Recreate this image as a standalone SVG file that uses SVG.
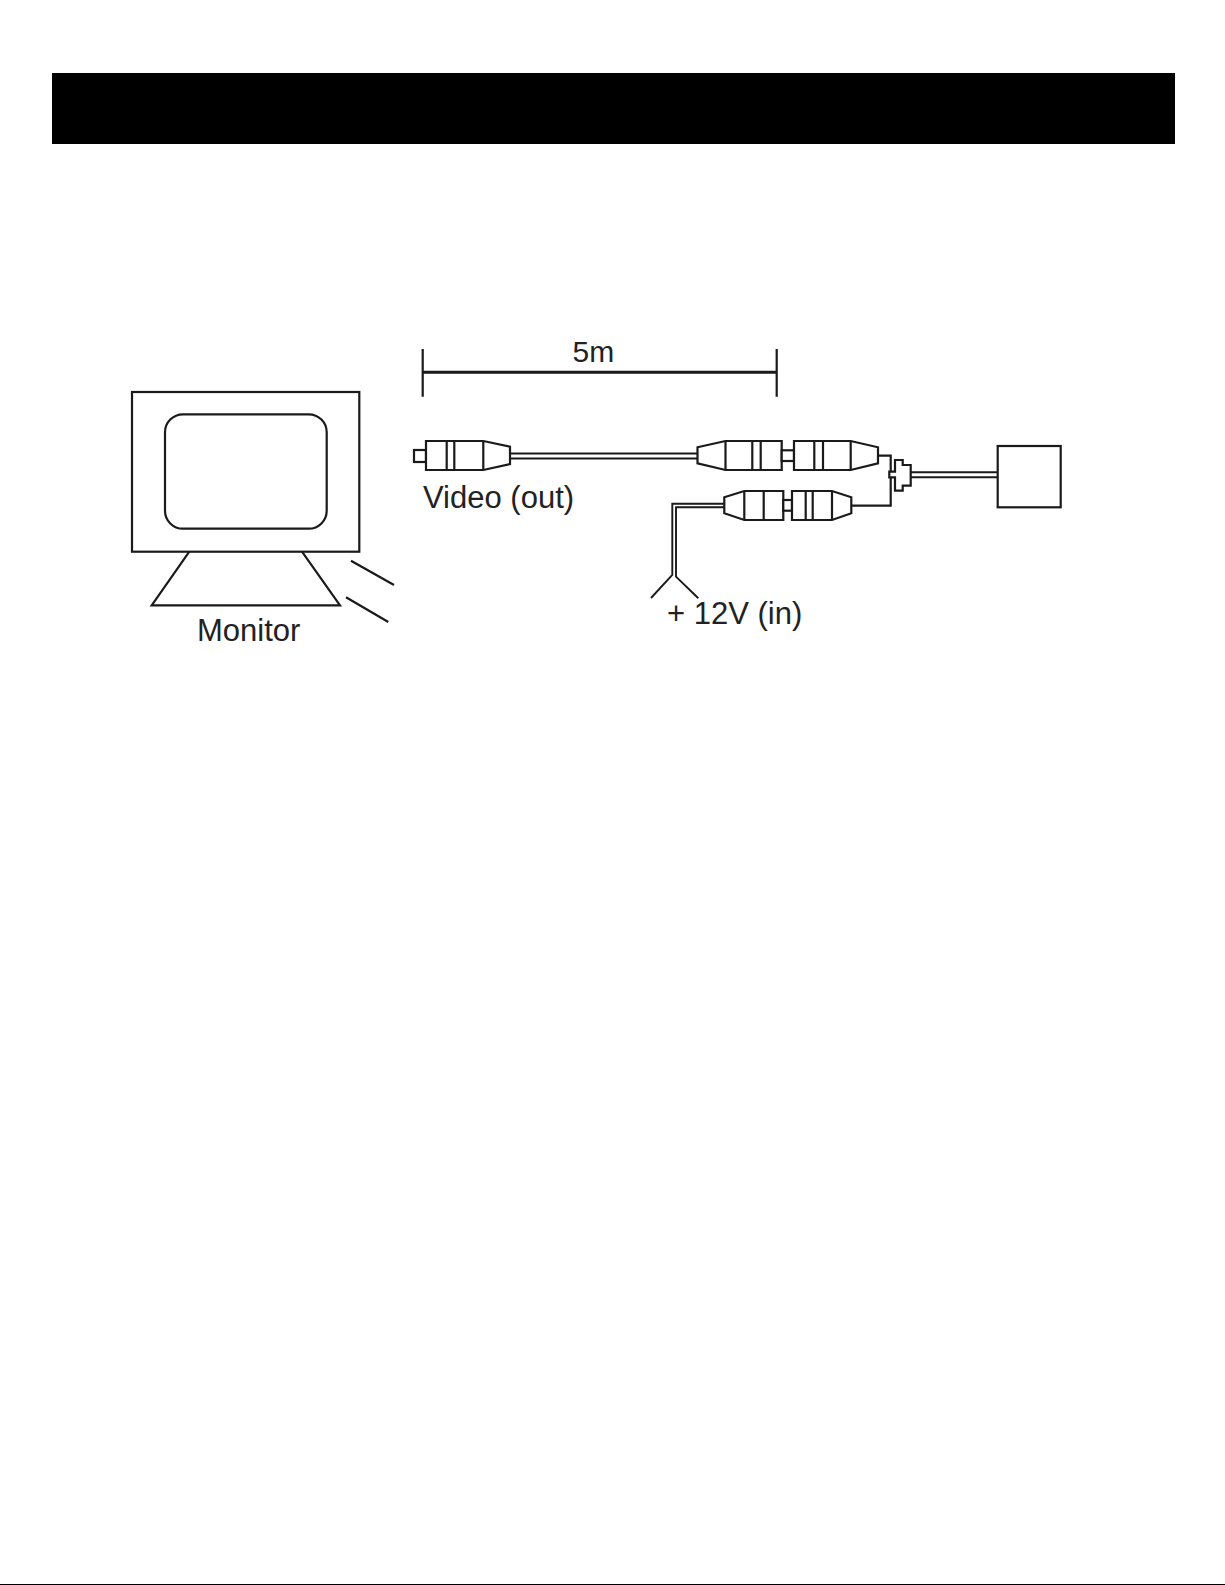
<svg xmlns="http://www.w3.org/2000/svg" width="1225" height="1585" viewBox="0 0 1225 1585">
<style>
.s{fill:none;stroke:#1a1a1a;stroke-width:2.2}
.w{fill:#fff;stroke:#1a1a1a;stroke-width:2.2}
.c{fill:none;stroke:#1a1a1a;stroke-width:1.9}
.t{font-family:"Liberation Sans",Arial,sans-serif;font-size:31px;fill:#222}
</style>
<rect width="1225" height="1585" fill="#fff"/>
<rect id="header-bar" x="52" y="73" width="1123" height="71" fill="#000"/>
<rect id="page-rule" x="0" y="1584" width="1225" height="1.5" fill="#000"/>
<g id="monitor">
<rect class="s" x="132" y="392" width="227.300" height="159.700"/>
<rect class="s" x="165" y="414.300" width="161.700" height="114.400" rx="18"/>
<path class="s" d="M189.300 551.700L151.700 605.300H340L302 551.700"/>
<path class="s" d="M351 560.700L394 585M346 597.300L388.300 622"/>
<text class="t" x="197" y="640.800">Monitor</text>
</g>
<g id="dimension">
<path class="s" d="M422.700 349V396.700M776.700 349V396.700"/>
<path d="M422.700 372.300H776.700" fill="none" stroke="#1a1a1a" stroke-width="3"/>
<text class="t" x="572.500" y="361.700" style="font-size:30px">5m</text>
</g>
<g id="connectors">
<path class="c" d="M510 453.500H697.500M510 458.500H697.500"/>
<path class="s" d="M878 455.700H890.700V505.700H851.300"/>
<path class="c" d="M910.700 472.300H997.700M910.700 477.300H997.700"/>
<path class="c" d="M724.300 503.700H672.300V575L651 598M724.300 507.300H676V576.700L698.300 598.300"/>
</g>
<g id="video-plug">
<rect class="w" x="414" y="450" width="12" height="12"/>
<path class="w" d="M426 441H483.300L510 446.700V464L483.300 470H426Z"/>
<path class="s" d="M446.700 441V470M454.300 441V470M483.300 441V470"/>
<text class="t" x="423" y="507.800">Video (out)</text>
</g>
<g id="video-coupler">
<path class="w" d="M697.500 447.300L725.500 441H781.700V470H725.500L697.500 463.300Z"/>
<path class="s" d="M725.500 441V470M752.300 441V470M760.700 441V470"/>
<rect class="w" x="781.700" y="450.300" width="12.300" height="10.700"/>
<path class="w" d="M794 441H850.700L878 447.300V463.300L850.700 470H794Z"/>
<path class="s" d="M814.300 441V470M823 441V470M850.700 441V470"/>
</g>
<g id="power-coupler">
<path class="w" d="M724.300 497.300L744.300 491H783.300V520H744.300L724.300 513.300Z"/>
<path class="s" d="M744.300 491V520M763.700 491V520"/>
<rect class="w" x="783.300" y="500" width="8.700" height="10.700"/>
<path class="w" d="M792 491H832L851.300 497.300V513.300L832 520H792Z"/>
<path class="s" d="M805.700 491V520M812.700 491V520M832 491V520"/>
</g>
<g id="t-junction">
<path class="w" d="M889.300 471.700H895V460H902.700V465H910.700V485.700H902.700V490.700H895V477.300H889.300Z"/>
</g>
<g id="camera">
<rect class="s" x="997.700" y="446" width="63" height="61.300"/>
</g>
<text class="t" id="power-label" x="667" y="624">+ 12V (in)</text>
</svg>
